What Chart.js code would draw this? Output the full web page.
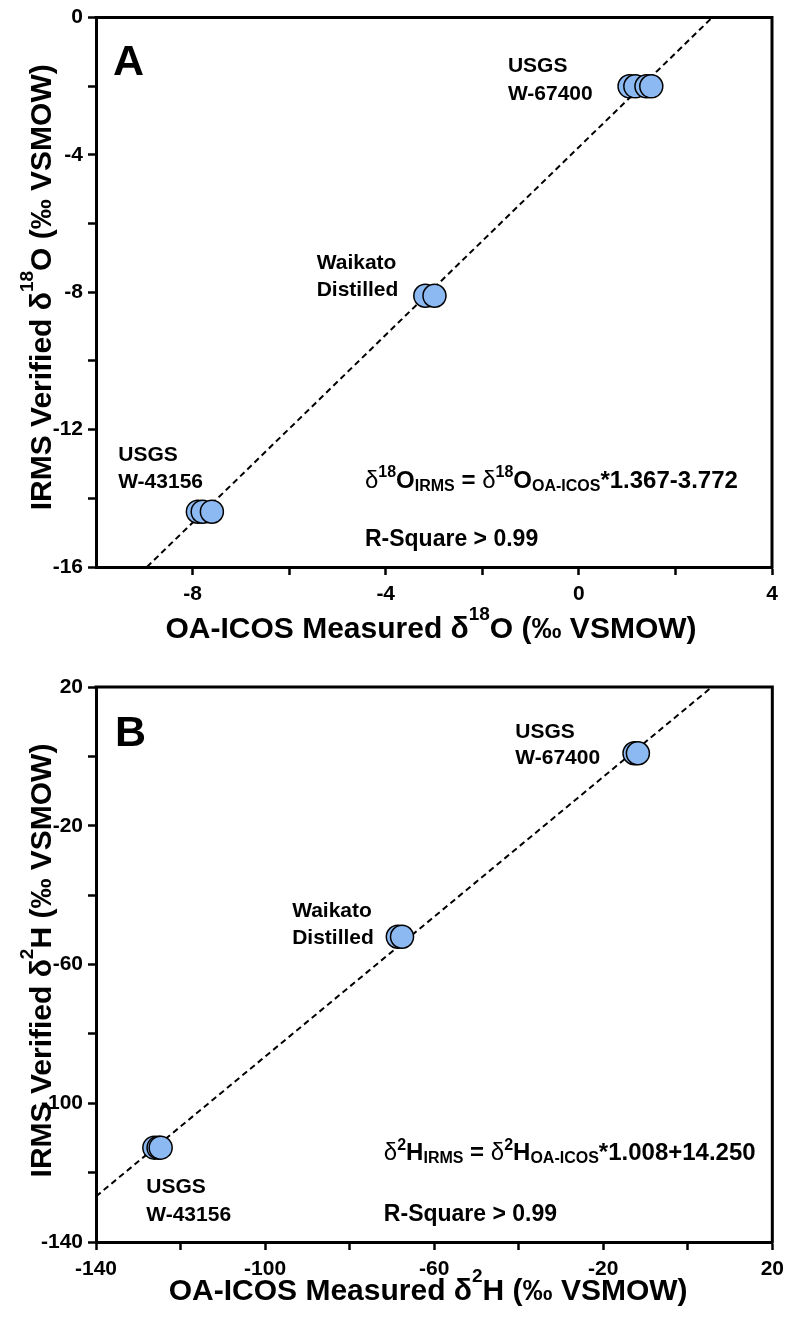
<!DOCTYPE html>
<html>
<head>
<meta charset="utf-8">
<script src="https://cdn.jsdelivr.net/npm/chart.js@4.4.0/dist/chart.umd.min.js"></script>
<style>
  html, body { margin: 0; padding: 0; background: #ffffff; }
  #wrap { position: relative; width: 791px; height: 1329px; }
  canvas { position: absolute; left: 0; }
  #chartO { top: 0; }
  #chartH { top: 664px; }
</style>
</head>
<body>
<div id="wrap">
  <canvas id="chartO" width="791" height="664"></canvas>
  <canvas id="chartH" width="791" height="665"></canvas>
</div>
<script>
// ---------- Panel A: δ18O (‰ VSMOW), OA-ICOS measured vs IRMS verified ----------
const o18_W67400_x = [1.05, 1.17, 1.40, 1.50];
const o18_W67400_y = [-2.00, -2.00, -2.00, -2.00];
const o18_Waikato_x = [-3.18, -2.99];
const o18_Waikato_y = [-8.10, -8.10];
const o18_W43156_x = [-7.89, -7.79, -7.60];
const o18_W43156_y = [-14.39, -14.39, -14.39];
const o18_fit = [1.367, -3.772];            // slope, intercept
const o18_xTicks = [-8, -6, -4, -2, 0, 2, 4];
const o18_xLabels = [-8, -4, 0, 4];
const o18_yTicks = [0, -2, -4, -6, -8, -10, -12, -14, -16];
const o18_yLabels = [0, -4, -8, -12, -16];

// ---------- Panel B: δ2H (‰ VSMOW) ----------
const h2_W67400_x = [-12.6, -11.8];
const h2_W67400_y = [0.9, 0.9];
const h2_Waikato_x = [-68.6, -67.6];
const h2_Waikato_y = [-52.0, -52.0];
const h2_W43156_x = [-126.2, -125.2, -124.7];
const h2_W43156_y = [-112.8, -112.8, -112.8];
const h2_fit = [1.008, 14.250];
const h2_xTicks = [-140, -120, -100, -80, -60, -40, -20, 0, 20];
const h2_xLabels = [-140, -100, -60, -20, 20];
const h2_yTicks = [20, 0, -20, -40, -60, -80, -100, -120, -140];
const h2_yLabels = [20, -20, -60, -100, -140];

const FONT = '"Liberation Sans", Arial, Helvetica, sans-serif';
const POINT_FILL = '#8cb9f2';

function pairs(xs, ys) { return xs.map((x, i) => ({ x: x, y: ys[i] })); }

// End points of the fitted line, clipped to the plot box
function fitEnds(fit, xmin, xmax, ymin, ymax) {
  const m = fit[0], b = fit[1];
  let x0 = xmin, y0 = m * x0 + b;
  if (y0 < ymin) { y0 = ymin; x0 = (ymin - b) / m; }
  let x1 = xmax, y1 = m * x1 + b;
  if (y1 > ymax) { y1 = ymax; x1 = (ymax - b) / m; }
  return [{ x: x0, y: y0 }, { x: x1, y: y1 }];
}

// Draws text made of normal / superscript / subscript runs
function drawRich(ctx, segs, x, y, size, align, supRise, ratio) {
  const parts = segs.map(s => {
    const fs = s.k ? Math.round(size * ratio) : size;
    const font = (s.w || 'bold') + ' ' + fs + 'px ' + FONT;
    ctx.font = font;
    const dy = s.k === 'sup' ? -size * supRise : (s.k === 'sub' ? size * 0.14 : 0);
    return { t: s.t, font: font, w: ctx.measureText(s.t).width, dy: dy };
  });
  const total = parts.reduce((a, p) => a + p.w, 0);
  let cx = align === 'center' ? x - total / 2 : x;
  ctx.textAlign = 'left';
  ctx.textBaseline = 'alphabetic';
  parts.forEach(p => { ctx.font = p.font; ctx.fillText(p.t, cx, y + p.dy); cx += p.w; });
}

const decorPlugin = {
  id: 'decor',
  afterDraw(chart) {
    const o = chart.options.plugins.decor;
    const ctx = chart.ctx;
    const a = chart.chartArea;
    const xs = chart.scales.x, ys = chart.scales.y;
    ctx.save();
    ctx.fillStyle = '#000';
    ctx.strokeStyle = '#000';

    // top and right frame lines
    ctx.lineWidth = 3;
    ctx.beginPath();
    ctx.moveTo(a.left - 1.5, a.top);
    ctx.lineTo(a.right, a.top);
    ctx.lineTo(a.right, a.bottom + 1.5);
    ctx.stroke();

    // panel letter
    ctx.font = 'bold 43px ' + FONT;
    ctx.textAlign = 'left';
    ctx.textBaseline = 'alphabetic';
    ctx.fillText(o.letter.t, xs.getPixelForValue(o.letter.x), ys.getPixelForValue(o.letter.y));

    // sample labels
    ctx.font = 'bold 21px ' + FONT;
    o.labels.forEach(l => {
      ctx.fillText(l.t, xs.getPixelForValue(l.x), ys.getPixelForValue(l.y));
    });

    // fit equation and R-square
    drawRich(ctx, o.equation.segs, xs.getPixelForValue(o.equation.x), ys.getPixelForValue(o.equation.y), 24, 'left', 0.44, 0.65);
    ctx.font = 'bold 23px ' + FONT;
    ctx.textAlign = 'left';
    ctx.fillText(o.rsq.t, xs.getPixelForValue(o.rsq.x), ys.getPixelForValue(o.rsq.y));

    // axis titles
    drawRich(ctx, o.xTitle, (a.left + a.right) / 2 + o.xTitleDx, a.bottom + o.xTitleDy, 30, 'center', 0.6, 0.62);
    ctx.save();
    ctx.translate(51, (a.top + a.bottom) / 2 + o.yTitleDy);
    ctx.rotate(-Math.PI / 2);
    drawRich(ctx, o.yTitle, 0, 0, 30, 'center', 0.6, 0.62);
    ctx.restore();

    ctx.restore();
  }
};

function makePanel(canvasId, cfg) {
  const tickFont = { family: FONT, size: 21, weight: 'bold' };
  const pointStyle = {
    type: 'scatter',
    pointRadius: 11.5,
    pointHoverRadius: 11.5,
    pointBackgroundColor: POINT_FILL,
    pointBorderColor: '#000',
    pointBorderWidth: 1.5,
    showLine: false,
    order: 1
  };
  const datasets = cfg.groups.map(g => Object.assign({ label: g.name, data: g.data }, pointStyle));
  datasets.push({
    type: 'line',
    label: 'fit',
    data: fitEnds(cfg.fit, cfg.xMin, cfg.xMax, cfg.yMin, cfg.yMax),
    borderColor: '#000',
    borderWidth: 2,
    borderDash: [6, 4],
    pointRadius: 0,
    fill: false,
    order: 2
  });

  return new Chart(document.getElementById(canvasId), {
    type: 'scatter',
    data: { datasets: datasets },
    options: {
      responsive: false,
      animation: false,
      events: [],
      layout: { padding: { left: 0, top: cfg.padTop, right: cfg.padRight, bottom: 0 } },
      plugins: {
        legend: { display: false },
        tooltip: { enabled: false },
        decor: cfg.decor
      },
      scales: {
        x: {
          type: 'linear',
          min: cfg.xMin, max: cfg.xMax,
          afterBuildTicks: s => { s.ticks = cfg.xTicks.map(v => ({ value: v })); },
          afterFit: s => { s.height = cfg.xAxisH; },
          ticks: {
            callback: v => cfg.xLabels.includes(v) ? String(v) : '',
            font: tickFont, color: '#000', padding: 7,
            maxRotation: 0, autoSkip: false
          },
          grid: { drawOnChartArea: false, drawTicks: true, tickLength: 8, tickWidth: 2.5, tickColor: '#000' },
          border: { display: true, color: '#000', width: 3 }
        },
        y: {
          type: 'linear',
          min: cfg.yMin, max: cfg.yMax,
          afterBuildTicks: s => { s.ticks = cfg.yTicks.map(v => ({ value: v })); },
          afterFit: s => { s.width = 96; },
          ticks: {
            callback: v => cfg.yLabels.includes(v) ? String(v) : '',
            font: tickFont, color: '#000', padding: 5, autoSkip: false
          },
          grid: { drawOnChartArea: false, drawTicks: true, tickLength: 8, tickWidth: 2.5, tickColor: '#000' },
          border: { display: true, color: '#000', width: 3 }
        }
      }
    },
    plugins: [decorPlugin]
  });
}

makePanel('chartO', {
  xMin: -10, xMax: 4, yMin: -16, yMax: 0,
  xTicks: o18_xTicks, xLabels: o18_xLabels,
  yTicks: o18_yTicks, yLabels: o18_yLabels,
  padTop: 16, padRight: 19, xAxisH: 97,
  fit: o18_fit,
  groups: [
    { name: 'USGS W-67400', data: pairs(o18_W67400_x, o18_W67400_y) },
    { name: 'Waikato Distilled', data: pairs(o18_Waikato_x, o18_Waikato_y) },
    { name: 'USGS W-43156', data: pairs(o18_W43156_x, o18_W43156_y) }
  ],
  decor: {
    letter: { t: 'A', x: -9.65, y: -1.66 },
    labels: [
      { t: 'USGS', x: -1.47, y: -1.57 },
      { t: 'W-67400', x: -1.47, y: -2.39 },
      { t: 'Waikato', x: -5.43, y: -7.33 },
      { t: 'Distilled', x: -5.43, y: -8.10 },
      { t: 'USGS', x: -9.54, y: -12.92 },
      { t: 'W-43156', x: -9.54, y: -13.71 }
    ],
    equation: {
      x: -4.43, y: -13.70,
      segs: [
        { t: 'δ', w: 'normal' }, { t: '18', k: 'sup' }, { t: 'O' }, { t: 'IRMS', k: 'sub' },
        { t: ' = ' }, { t: 'δ', w: 'normal' }, { t: '18', k: 'sup' }, { t: 'O' }, { t: 'OA-ICOS', k: 'sub' },
        { t: '*1.367-3.772' }
      ]
    },
    rsq: { t: 'R-Square > 0.99', x: -4.43, y: -15.38 },
    xTitle: [{ t: 'OA-ICOS Measured δ' }, { t: '18', k: 'sup' }, { t: 'O (‰ VSMOW)' }],
    xTitleDx: -3, xTitleDy: 71,
    yTitle: [{ t: 'IRMS Verified δ' }, { t: '18', k: 'sup' }, { t: 'O (‰ VSMOW)' }],
    yTitleDy: -5
  }
});

makePanel('chartH', {
  xMin: -140, xMax: 20, yMin: -140, yMax: 20,
  xTicks: h2_xTicks, xLabels: h2_xLabels,
  yTicks: h2_yTicks, yLabels: h2_yLabels,
  padTop: 23, padRight: 14, xAxisH: 87,
  fit: h2_fit,
  groups: [
    { name: 'USGS W-67400', data: pairs(h2_W67400_x, h2_W67400_y) },
    { name: 'Waikato Distilled', data: pairs(h2_Waikato_x, h2_Waikato_y) },
    { name: 'USGS W-43156', data: pairs(h2_W43156_x, h2_W43156_y) }
  ],
  decor: {
    letter: { t: 'B', x: -135.5, y: 3.0 },
    labels: [
      { t: 'USGS', x: -40.8, y: 5.2 },
      { t: 'W-67400', x: -40.8, y: -2.3 },
      { t: 'Waikato', x: -93.6, y: -46.2 },
      { t: 'Distilled', x: -93.6, y: -54.2 },
      { t: 'USGS', x: -128.1, y: -126.0 },
      { t: 'W-43156', x: -128.1, y: -133.9 }
    ],
    equation: {
      x: -71.9, y: -116.4,
      segs: [
        { t: 'δ', w: 'normal' }, { t: '2', k: 'sup' }, { t: 'H' }, { t: 'IRMS', k: 'sub' },
        { t: ' = ' }, { t: 'δ', w: 'normal' }, { t: '2', k: 'sup' }, { t: 'H' }, { t: 'OA-ICOS', k: 'sub' },
        { t: '*1.008+14.250' }
      ]
    },
    rsq: { t: 'R-Square > 0.99', x: -71.9, y: -133.9 },
    xTitle: [{ t: 'OA-ICOS Measured δ' }, { t: '2', k: 'sup' }, { t: 'H (‰ VSMOW)' }],
    xTitleDx: -6, xTitleDy: 58,
    yTitle: [{ t: 'IRMS Verified δ' }, { t: '2', k: 'sup' }, { t: 'H (‰ VSMOW)' }],
    yTitleDy: -4
  }
});
</script>
</body>
</html>
